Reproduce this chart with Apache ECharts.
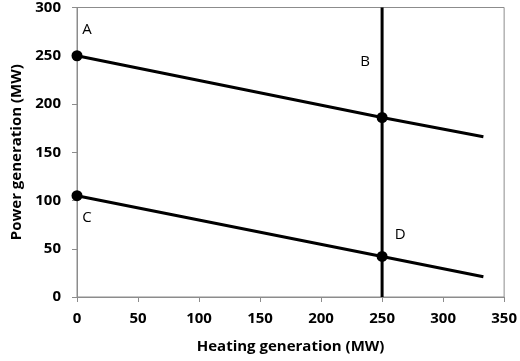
<!DOCTYPE html>
<html>
<head>
<meta charset="utf-8">
<script src="https://cdn.jsdelivr.net/npm/echarts@6/dist/echarts.min.js"></script>
<style>
  html, body { margin: 0; padding: 0; background: #fff; }
  #chart { width: 520px; height: 361px; }
</style>
</head>
<body>
<div id="chart"></div>
<script>
// Operating region of a CHP unit: power vs heat output
const xTicks = [0, 50, 100, 150, 200, 250, 300, 350];
const yTicks = [0, 50, 100, 150, 200, 250, 300];

// Upper boundary (max power) and lower boundary (min power)
const upperHeat = [0, 250, 333];
const upperPower = [250, 186, 166];
const lowerHeat = [0, 250, 333];
const lowerPower = [105, 42, 21];

// Heat demand limit
const limitHeat = [250, 250];
const limitPower = [0, 300];

// Corner points
const pointNames = ['A', 'B', 'C', 'D'];
const pointHeat = [0, 250, 0, 250];
const pointPower = [250, 186, 105, 42];

const labelOffsets = { A: [10, -26], B: [-17, -56], C: [10, 22], D: [18, -22] };

const zip = (xs, ys) => xs.map((x, i) => [x, ys[i]]);

const font = '"Open Sans", sans-serif';
const axisGrey = '#8c8c8c';

const chart = echarts.init(document.getElementById('chart'));
chart.setOption({
  animation: false,
  grid: {
    left: 77, right: 12, top: 7, bottom: 64,
    show: true, borderColor: axisGrey, borderWidth: 1, backgroundColor: 'transparent'
  },
  xAxis: {
    type: 'value', min: xTicks[0], max: xTicks[xTicks.length - 1], interval: 50,
    name: 'Heating generation (MW)', nameLocation: 'middle', nameGap: 42,
    nameTextStyle: { fontFamily: font, fontWeight: 'bold', fontSize: 15, color: '#000' },
    axisLine: { show: true, lineStyle: { color: axisGrey, width: 1 } },
    axisTick: { show: true, length: 5, lineStyle: { color: axisGrey } },
    axisLabel: { fontFamily: font, fontWeight: 'bold', fontSize: 15, color: '#000', margin: 14 },
    splitLine: { show: false }
  },
  yAxis: {
    type: 'value', min: yTicks[0], max: yTicks[yTicks.length - 1], interval: 50,
    name: 'Power generation (MW)', nameLocation: 'middle', nameGap: 51,
    nameTextStyle: { fontFamily: font, fontWeight: 'bold', fontSize: 15, color: '#000' },
    axisLine: { show: true, lineStyle: { color: axisGrey, width: 1 } },
    axisTick: { show: true, length: 5, lineStyle: { color: axisGrey } },
    axisLabel: { fontFamily: font, fontWeight: 'bold', fontSize: 15, color: '#000', margin: 16 },
    splitLine: { show: false }
  },
  series: [
    {
      type: 'line', data: zip(upperHeat, upperPower), showSymbol: false,
      lineStyle: { color: '#000', width: 3 }, z: 3
    },
    {
      type: 'line', data: zip(lowerHeat, lowerPower), showSymbol: false,
      lineStyle: { color: '#000', width: 3 }, z: 3
    },
    {
      type: 'line', data: zip(limitHeat, limitPower), showSymbol: false,
      lineStyle: { color: '#000', width: 3 }, z: 3
    },
    {
      type: 'scatter', symbol: 'circle', symbolSize: 11,
      itemStyle: { color: '#000', opacity: 1 }, z: 5, clip: false,
      data: pointNames.map((n, i) => ({
        value: [pointHeat[i], pointPower[i]],
        name: n,
        label: {
          show: true, formatter: n, position: 'inside', offset: labelOffsets[n],
          fontFamily: font, fontSize: 15, color: '#000'
        }
      }))
    }
  ]
});
</script>
</body>
</html>
